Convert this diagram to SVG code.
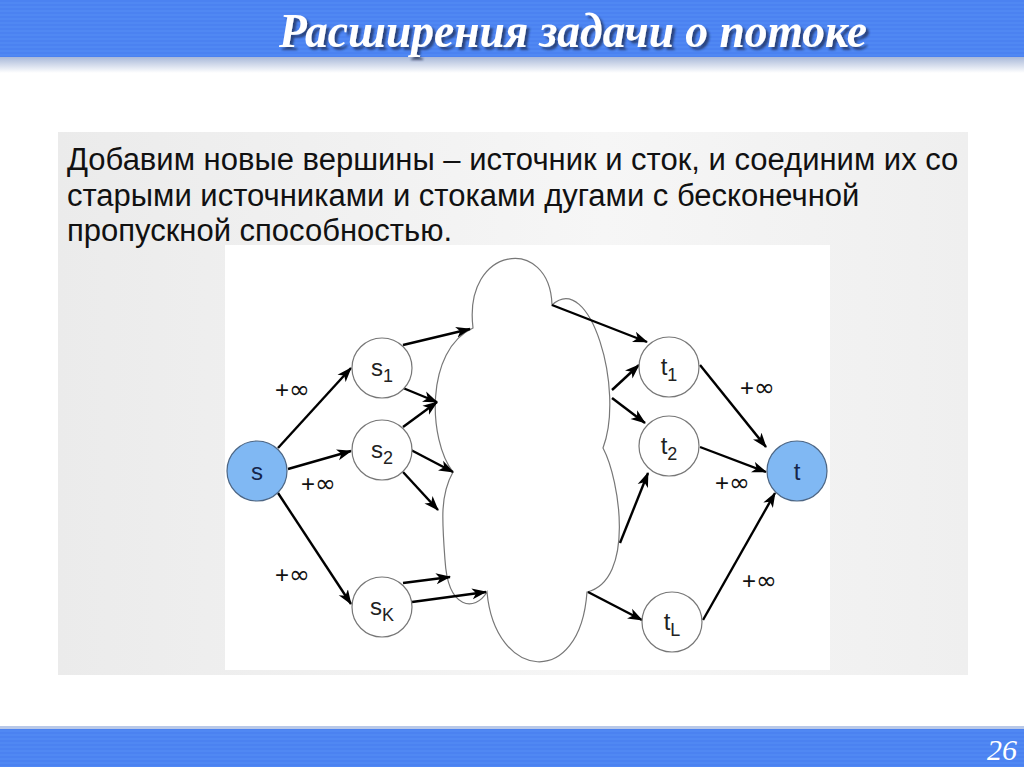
<svg xmlns="http://www.w3.org/2000/svg" width="1024" height="767" viewBox="0 0 1024 767">
<defs>
<linearGradient id="hdrFade" x1="0" y1="0" x2="0" y2="1">
<stop offset="0" stop-color="#a9b9d9"/>
<stop offset="1" stop-color="#ffffff"/>
</linearGradient>
<linearGradient id="panel" x1="0" y1="0" x2="1" y2="0">
<stop offset="0" stop-color="#ebebeb"/>
<stop offset="0.6" stop-color="#f6f6f6"/>
<stop offset="1" stop-color="#efefef"/>
</linearGradient>
<pattern id="stripes" width="8" height="4" patternUnits="userSpaceOnUse">
<rect width="8" height="2" fill="#4b82f1"/>
<rect y="2" width="8" height="2" fill="#5088f3"/>
</pattern>
<filter id="shadow" x="-5%" y="-20%" width="110%" height="150%">
<feDropShadow dx="3" dy="3" stdDeviation="1.2" flood-color="#1a2550" flood-opacity="0.7"/>
</filter>
<marker id="arr" markerUnits="userSpaceOnUse" markerWidth="15" markerHeight="12" refX="14" refY="6" orient="auto">
<path d="M0,0.5 L15,6 L0,11.5 L4,6 Z" fill="#000"/>
</marker>
</defs>
<style>
.title{font-family:"Liberation Serif",serif;font-style:italic;font-weight:bold;font-size:48px;fill:#ffffff;filter:url(#shadow)}
.body{font-family:"Liberation Sans",Arial,sans-serif;font-size:31px;fill:#111}
.node{fill:#ffffff;stroke:#777;stroke-width:1.2}
.term{fill:#80b8f3;stroke:#4d6684;stroke-width:1.2}
.lbl{font-family:"Liberation Sans",Arial,sans-serif;font-size:24px;fill:#222;text-anchor:middle}
.tlbl{font-family:"Liberation Sans",Arial,sans-serif;font-size:24px;fill:#15254a;text-anchor:middle}
.sub{font-size:18px}
.cap{font-family:"Liberation Sans",Arial,sans-serif;font-size:24px;fill:#111}
.inf{font-family:"DejaVu Sans",sans-serif;font-size:25px}
.edge{stroke:#000;stroke-width:2.4;fill:none;marker-end:url(#arr)}
.cloud{fill:#ffffff;stroke:#777;stroke-width:1.2}
</style>
<rect width="1024" height="767" fill="#ffffff"/>
<!-- header -->
<rect x="0" y="0" width="1024" height="57" fill="url(#stripes)"/>
<rect x="0" y="57" width="1024" height="16" fill="url(#hdrFade)"/>
<text class="title" x="279" y="47" textLength="588" lengthAdjust="spacingAndGlyphs">Расширения задачи о потоке</text>
<!-- footer -->
<rect x="0" y="726" width="1024" height="3" fill="#b8c8e8"/>
<rect x="0" y="729" width="1024" height="38" fill="url(#stripes)"/>
<text x="1017" y="760" text-anchor="end" font-family="Liberation Serif, serif" font-style="italic" font-size="30" fill="#ffffff">26</text>
<!-- panel -->
<rect x="58" y="132" width="910" height="543" fill="url(#panel)"/>
<rect x="225" y="245" width="605" height="425" fill="#ffffff"/>
<text class="body" x="67" y="170">Добавим новые вершины – источник и сток, и соединим их со</text>
<text class="body" x="67" y="206">старыми источниками и стоками дугами с бесконечной</text>
<text class="body" x="67" y="241">пропускной способностью.</text>
<!-- cloud -->
<g id="cloud">
<path class="cloud" d="M473,328 C463,245 550,235 552,305 C590,270 625,390 603,448 C620,480 635,580 587,592 C580,690 495,680 487,592 C475,612 448,610 445,560 C442,520 440,495 453,472 C428,440 425,350 473,328 Z"/>
</g>
<!-- connectors -->
<g id="edges">
<path class="edge" d="M278,448 L351,368"/>
<path class="edge" d="M288,469 L351,451"/>
<path class="edge" d="M278,493 L351,604"/>
<path class="edge" d="M403,345 L470,329"/>
<path class="edge" d="M403,388 L437,402"/>
<path class="edge" d="M403,427 L437,402"/>
<path class="edge" d="M411,450 L453,472"/>
<path class="edge" d="M403,472 L438,510"/>
<path class="edge" d="M403,583 L450,577"/>
<path class="edge" d="M412,602 L486,592"/>
<path class="edge" d="M552,305 L647,342"/>
<path class="edge" d="M612,390 L639,365"/>
<path class="edge" d="M612,398 L645,423"/>
<path class="edge" d="M620,543 L648,473"/>
<path class="edge" d="M588,592 L642,620"/>
<path class="edge" d="M700,365 L766,447"/>
<path class="edge" d="M700,447 L766,472"/>
<path class="edge" d="M703,620 L775,493"/>
</g>
<!-- edge labels -->
<g id="labels">
<text class="cap" x="275" y="398">+<tspan class="inf">∞</tspan></text>
<text class="cap" x="301" y="492">+<tspan class="inf">∞</tspan></text>
<text class="cap" x="275" y="583">+<tspan class="inf">∞</tspan></text>
<text class="cap" x="740" y="396">+<tspan class="inf">∞</tspan></text>
<text class="cap" x="715" y="491">+<tspan class="inf">∞</tspan></text>
<text class="cap" x="742" y="589">+<tspan class="inf">∞</tspan></text>
</g>
<!-- nodes -->
<g id="node-s"><circle class="term" cx="257" cy="471" r="30"/><text class="tlbl" x="257" y="480">s</text></g>
<g id="node-s1"><circle class="node" cx="382" cy="368" r="30"/><text class="lbl" x="382" y="376">s<tspan class="sub" dy="6">1</tspan></text></g>
<g id="node-s2"><circle class="node" cx="382" cy="450" r="30"/><text class="lbl" x="382" y="458">s<tspan class="sub" dy="6">2</tspan></text></g>
<g id="node-sK"><circle class="node" cx="382" cy="607" r="30"/><text class="lbl" x="382" y="615">s<tspan class="sub" dy="6">K</tspan></text></g>
<g id="node-t1"><circle class="node" cx="669" cy="367" r="30"/><text class="lbl" x="669" y="375">t<tspan class="sub" dy="6">1</tspan></text></g>
<g id="node-t2"><circle class="node" cx="669" cy="446" r="30"/><text class="lbl" x="669" y="454">t<tspan class="sub" dy="6">2</tspan></text></g>
<g id="node-tL"><circle class="node" cx="672" cy="622" r="30"/><text class="lbl" x="672" y="630">t<tspan class="sub" dy="6">L</tspan></text></g>
<g id="node-t"><circle class="term" cx="797" cy="471" r="30"/><text class="tlbl" x="797" y="480">t</text></g>
</svg>
